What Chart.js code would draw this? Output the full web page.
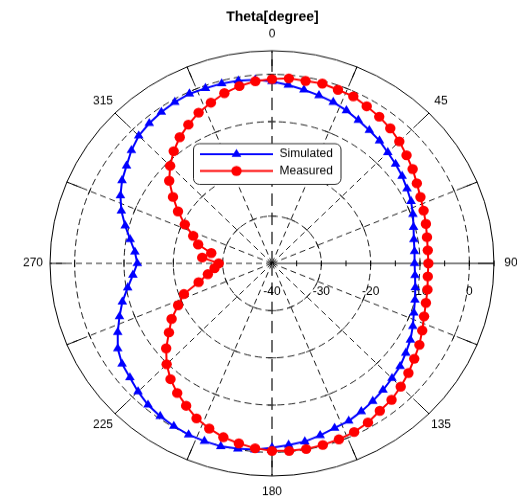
<!DOCTYPE html>
<html>
<head>
<meta charset="utf-8">
<script src="https://cdn.jsdelivr.net/npm/chart.js@4.4.1/dist/chart.umd.min.js"></script>
<style>
  html, body { margin: 0; padding: 0; background: #fff; }
</style>
</head>
<body>
<!-- the original plot is a little squashed vertically, so the canvas is drawn taller and shown at 497px -->
<canvas id="polar" width="517" height="519" style="display:block;width:517px;height:497px"></canvas>
<script>
// sample angles, degrees clockwise from the top
const thetaDeg = [
  0, 5, 10, 15, 20, 25, 30, 35, 40, 45, 50, 55, 60, 65, 70, 75, 80, 85,
  90, 95, 100, 105, 110, 115, 120, 125, 130, 135, 140, 145, 150, 155, 160, 165, 170, 175,
  180, 185, 190, 195, 200, 205, 210, 215, 220, 225, 230, 235, 240, 245, 250, 255, 260, 265,
  270, 275, 280, 285, 290, 295, 300, 305, 310, 315, 320, 325, 330, 335, 340, 345, 350, 355
];

// dB values
const simulated = [
  -1.5, -2.1, -2.7, -3.2, -3.7, -4.3, -5.0, -5.6, -6.1, -6.8, -7.3, -7.8, -8.4, -8.9, -9.6, -10.3, -10.8, -11.0,
  -11.1, -10.9, -10.5, -10.0, -9.4, -8.5, -7.6, -6.9, -6.1, -5.6, -5.0, -4.4, -3.8, -3.2, -2.9, -2.3, -1.7, -1.4,
  -1.0, -0.4, -0.15, 0.1, 0.05, 0.0, -0.2, -0.5, -0.9, -1.6, -2.4, -2.9, -3.9, -5.5, -7.1, -8.6, -10.3, -11.7,
  -12.7, -12.1, -10.8, -9.2, -7.5, -6.1, -4.9, -4.0, -2.8, -1.8, -1.3, -0.9, -0.6, -0.4, -0.55, -0.6, -0.75, -1.0
];
const measured = [
  -1.0, -0.7, -0.8, -0.6, -0.9, -1.0, -1.6, -2.1, -2.7, -3.5, -4.4, -5.2, -6.1, -6.8, -7.3, -7.7, -8.1, -8.3,
  -8.3, -8.3, -8.0, -7.7, -7.2, -6.4, -5.5, -4.8, -3.9, -3.1, -2.3, -1.9, -1.1, -0.6, -0.35, -0.2, -0.1, -0.15,
  -0.3, -0.7, -1.3, -1.9, -2.8, -3.8, -5.2, -6.5, -8.0, -9.8, -12.0, -14.5, -16.5, -19.0, -21.0, -24.6, -26.8, -28.3,
  -29.2, -25.8, -27.5, -24.5, -23.0, -20.5, -18.0, -15.5, -12.8, -10.8, -9.0, -7.4, -6.1, -4.8, -3.8, -2.7, -1.9, -1.3
];

const angleLabels = [0, 45, 90, 135, 180, 225, 270, 315];
const spokeAngles = [0, 22.5, 45, 67.5, 90, 112.5, 135, 157.5, 180, 202.5, 225, 247.5, 270, 292.5, 315, 337.5];
const radialLabels = [-40, -30, -20, -10, 0];
const radialMinor = [-35, -30, -25, -20, -15, -10, -5, 0, 5];
const ringValues = [-30, -20, -10, 0];

const FONT = "Arial, 'Liberation Sans', Helvetica, sans-serif";
Chart.defaults.font.family = FONT;
Chart.defaults.color = '#000';

function degToIndex(deg) {
  return deg / (360 / thetaDeg.length);
}

// polar frame bits that the radial scale does not draw by itself
const polarFrame = {
  id: 'polarFrame',
  beforeDatasetsDraw(chart) {
    const s = chart.scales.r;
    const ctx = chart.ctx;
    const cx = s.xCenter, cy = s.yCenter, R = s.drawingArea;
    ctx.save();

    spokeAngles.forEach(function (deg) {
      const idx = degToIndex(deg);
      const end = s.getPointPosition(idx, R);
      ctx.beginPath();
      if (deg === 0 || deg === 180) {
        ctx.strokeStyle = '#6e6e6e';
        ctx.lineWidth = 2;
        ctx.setLineDash([13, 7]);
      } else if (deg === 90) {
        ctx.strokeStyle = '#000';
        ctx.lineWidth = 1;
        ctx.setLineDash([]);
      } else {
        ctx.strokeStyle = '#000';
        ctx.lineWidth = 0.9;
        ctx.setLineDash([6, 4]);
      }
      ctx.moveTo(cx, cy);
      ctx.lineTo(end.x, end.y);
      ctx.stroke();

      // tick on the outer circle
      const inner = s.getPointPosition(idx, R - 16);
      ctx.setLineDash([]);
      ctx.strokeStyle = '#000';
      ctx.lineWidth = 1;
      ctx.beginPath();
      ctx.moveTo(inner.x, inner.y);
      ctx.lineTo(end.x, end.y);
      ctx.stroke();

      // small cross ticks where the spoke meets the rings
      if (deg !== 90) {
        const a = s.getIndexAngle(idx);
        ctx.lineWidth = 0.8;
        ctx.beginPath();
        ringValues.forEach(function (v) {
          const p = s.getPointPosition(idx, s.getDistanceFromCenterForValue(v));
          ctx.moveTo(p.x - 4 * Math.cos(a), p.y - 4 * Math.sin(a));
          ctx.lineTo(p.x + 4 * Math.cos(a), p.y + 4 * Math.sin(a));
        });
        ctx.stroke();
      }
    });

    // ticks along the radial axis (90 degrees)
    ctx.strokeStyle = '#000';
    ctx.lineWidth = 1;
    ctx.beginPath();
    radialMinor.forEach(function (v) {
      const x = cx + s.getDistanceFromCenterForValue(v);
      ctx.moveTo(x, cy - 3);
      ctx.lineTo(x, cy + 3);
    });
    ctx.stroke();

    ctx.fillStyle = '#000';
    ctx.font = '12px ' + FONT;
    ctx.textAlign = 'center';
    ctx.textBaseline = 'middle';
    radialLabels.forEach(function (v) {
      ctx.fillText(String(v), cx + s.getDistanceFromCenterForValue(v), cy + 30);
    });
    angleLabels.forEach(function (deg) {
      const p = s.getPointPosition(degToIndex(deg), R + 17);
      ctx.fillText(String(deg), p.x, p.y);
    });
    ctx.restore();
  },
  afterDatasetsDraw(chart) {
    const ctx = chart.ctx;
    const box = { x: 193.5, y: 150, w: 147.5, h: 42.5, r: 6 };
    ctx.save();
    ctx.beginPath();
    ctx.roundRect(box.x, box.y, box.w, box.h, box.r);
    ctx.fillStyle = '#fff';
    ctx.fill();
    ctx.strokeStyle = '#262626';
    ctx.lineWidth = 1;
    ctx.stroke();

    const rows = [161, 178.5];
    chart.data.datasets.forEach(function (ds, i) {
      const y = rows[i];
      ctx.strokeStyle = ds.borderColor;
      ctx.lineWidth = ds.borderWidth;
      ctx.beginPath();
      ctx.moveTo(200, y);
      ctx.lineTo(273, y);
      ctx.stroke();
      ctx.fillStyle = ds.pointBackgroundColor;
      ctx.beginPath();
      const mx = 236.5, rad = ds.pointRadius;
      if (ds.pointStyle === 'triangle') {
        ctx.moveTo(mx, y - rad);
        ctx.lineTo(mx + rad * Math.sin(2 * Math.PI / 3), y - rad * Math.cos(2 * Math.PI / 3));
        ctx.lineTo(mx - rad * Math.sin(2 * Math.PI / 3), y - rad * Math.cos(2 * Math.PI / 3));
        ctx.closePath();
      } else {
        ctx.arc(mx, y, rad, 0, 2 * Math.PI);
      }
      ctx.fill();
      ctx.fillStyle = '#000';
      ctx.font = '12px ' + FONT;
      ctx.textAlign = 'left';
      ctx.textBaseline = 'middle';
      ctx.fillText(ds.label, 279.5, y);
    });
    ctx.restore();
  }
};

new Chart(document.getElementById('polar'), {
  type: 'radar',
  data: {
    labels: thetaDeg,
    datasets: [
      {
        label: 'Simulated',
        data: simulated,
        order: 1,
        borderColor: '#0000ff',
        backgroundColor: '#0000ff',
        pointBackgroundColor: '#0000ff',
        pointBorderColor: '#0000ff',
        borderWidth: 2,
        pointStyle: 'triangle',
        pointRadius: 5.6,
        pointBorderWidth: 0,
        fill: false,
        tension: 0
      },
      {
        label: 'Measured',
        data: measured,
        order: 0,
        borderColor: '#ff0000',
        backgroundColor: '#ff0000',
        pointBackgroundColor: '#ff0000',
        pointBorderColor: '#ff0000',
        borderWidth: 2,
        pointStyle: 'circle',
        pointRadius: 5.2,
        pointBorderWidth: 0,
        fill: false,
        tension: 0
      }
    ]
  },
  options: {
    responsive: false,
    animation: false,
    devicePixelRatio: 1,
    layout: { padding: { left: 50, right: 22, top: 0, bottom: 21 } },
    plugins: {
      legend: { display: false },
      tooltip: { enabled: false },
      title: {
        display: true,
        text: 'Theta[degree]',
        color: '#000',
        font: { size: 14, weight: 'bold', family: FONT },
        padding: { top: 9.4, bottom: 26.4 }
      }
    },
    scales: {
      r: {
        min: -40,
        max: 5,
        startAngle: 0,
        ticks: { display: false, stepSize: 10 },
        pointLabels: { display: false },
        angleLines: { display: false },
        grid: {
          circular: true,
          color: function (c) { return c.tick && c.tick.value === -40 ? 'rgba(0,0,0,0)' : '#000'; },
          lineWidth: function (c) { return c.tick && c.tick.value === 5 ? 1 : 0.9; }
        },
        border: {
          dash: function (c) { return c.tick && c.tick.value === 5 ? [] : [7, 4]; }
        }
      }
    }
  },
  plugins: [polarFrame]
});
</script>
</body>
</html>
